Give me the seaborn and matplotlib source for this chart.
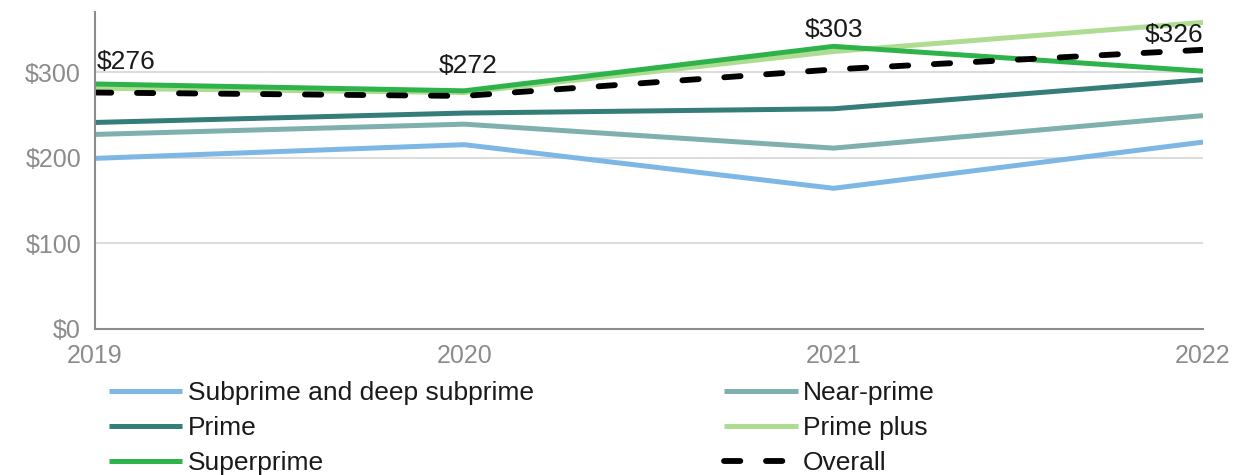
import numpy as np
import pandas as pd
import seaborn as sns
import matplotlib.pyplot as plt

# Data
years = [2019, 2020, 2021, 2022]
subprime = [199, 215, 164, 218]
near_prime = [227, 239, 211, 249]
prime = [241, 252, 257, 291]
prime_plus = [281, 276, 324, 358]
superprime = [286, 278, 330, 301]
overall = [276, 272, 303, 326]

series_names = ['Subprime and deep subprime', 'Near-prime', 'Prime',
                'Prime plus', 'Superprime', 'Overall']
series_values = [subprime, near_prime, prime, prime_plus, superprime, overall]
colors = ['#7db7e6', '#7fb0ad', '#347d78', '#aedd92', '#2eb34b', '#000000']

sns.set_style('white')
plt.rcParams['font.family'] = ['Liberation Sans', 'DejaVu Sans']

fig = plt.figure(figsize=(12.38, 4.75), dpi=100)
ax = fig.add_axes([0.0767, 0.3084, 0.895, 0.666])

for name, vals, col in zip(series_names, series_values, colors):
    df = pd.DataFrame({'year': years, 'value': vals})
    if name == 'Overall':
        ls, lw = (0, (2.8, 4.4)), 4.2
    else:
        ls, lw = '-', 3.6
    sns.lineplot(data=df, x='year', y='value', color=col, linewidth=lw,
                 linestyle=ls, ax=ax, label=name, solid_capstyle='butt',
                 dash_capstyle='round')

# Value labels for the overall line
lbl = dict(fontsize=19, color='#1a1a1a', textcoords='offset points')
ax.annotate('$276', (years[0], overall[0]), xytext=(1, 13), ha='left', va='bottom', **lbl)
ax.annotate('$272', (years[1], overall[1]), xytext=(3, 13), ha='center', va='bottom', **lbl)
ax.annotate('$303', (years[2], overall[2]), xytext=(0, 20), ha='center', va='bottom', **lbl)
ax.annotate('$326', (years[3], overall[3]), xytext=(0, 2), ha='right', va='bottom', **lbl)

ax.set_xlim(2019, 2022)
ax.set_ylim(0, 370)
ax.set_xticks(years)
ax.set_xticklabels([str(y) for y in years])
ax.set_yticks([0, 100, 200, 300])
ax.set_yticklabels(['$0', '$100', '$200', '$300'])
ax.set_xlabel('')
ax.set_ylabel('')

ax.grid(axis='y', color='#d9d9d9', linewidth=1.3)
ax.set_axisbelow(True)
for s in ['top', 'right']:
    ax.spines[s].set_visible(False)
for s in ['left', 'bottom']:
    ax.spines[s].set_color('#8c8c8c')
    ax.spines[s].set_linewidth(1.5)
ax.tick_params(axis='both', colors='#8c8c8c', labelcolor='#8c8c8c', labelsize=18,
               length=7, width=1.3, direction='out')
ax.tick_params(axis='x', pad=4)
ax.tick_params(axis='y', pad=3)

ax.get_legend().remove()
h, l = ax.get_legend_handles_labels()
order = [0, 2, 4, 1, 3, 5]
fig.legend([h[i] for i in order], [l[i] for i in order], ncol=2,
           loc='upper left', bbox_to_anchor=(0.077, 0.225), frameon=False,
           fontsize=19, handlelength=2.8, handletextpad=0.2,
           labelspacing=0.42, columnspacing=7.2, labelcolor='#1a1a1a',
           borderpad=0)

fig.savefig('out.png', dpi=100)
